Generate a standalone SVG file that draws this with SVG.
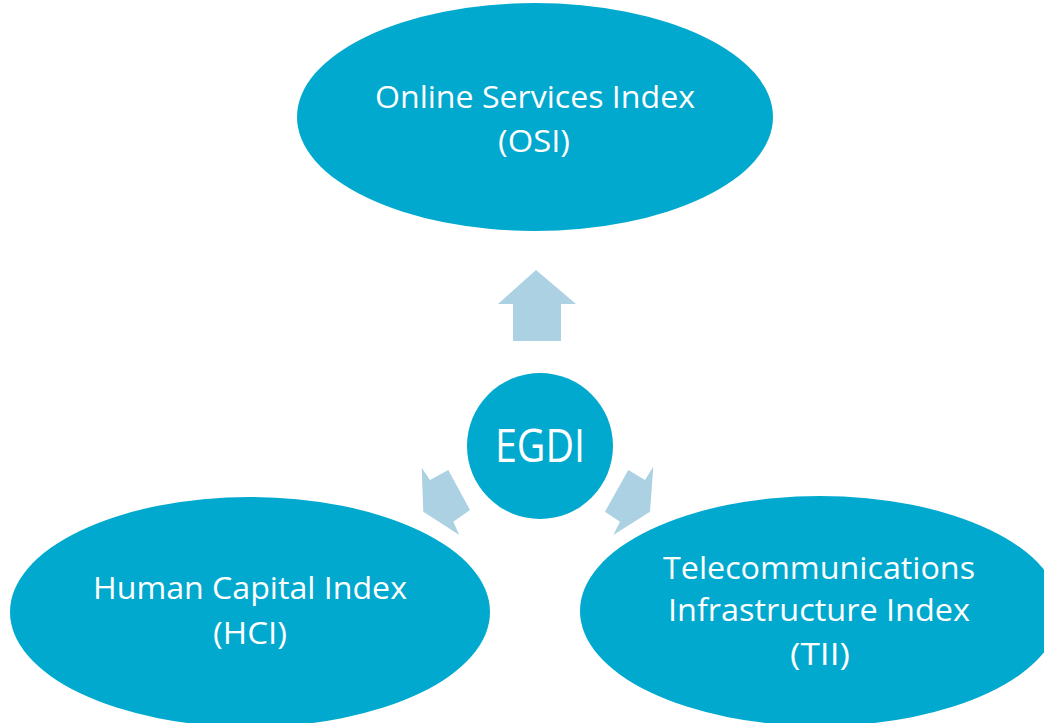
<svg xmlns="http://www.w3.org/2000/svg" width="1044" height="723" viewBox="0 0 1044 723">
<style>
.node{fill:#02A9CE}
.arrow{fill:#ABD1E3}
text{font-family:"Open Sans","Liberation Sans",Arial,sans-serif;fill:#ffffff;font-size:31px;text-anchor:middle}
.big{font-size:46px}
</style>
<rect width="1044" height="723" fill="#ffffff"/>
<g id="connectors">
<polygon class="arrow" points="536,270 576,304 561,304 561,341 513,341 513,304 498,304"/>
<polygon class="arrow" points="421.7,467.7 430,480 448.3,470 470,510 453.3,521.7 459.3,535 423.3,511.7"/>
<polygon class="arrow" points="653.3,466.7 645,480 628.3,470 605,511.7 620,521.7 613.3,535 650,511.7"/>
</g>
<g id="osi">
<ellipse class="node" cx="535" cy="117" rx="238" ry="114"/>
<text x="535" y="108" textLength="320" lengthAdjust="spacingAndGlyphs">Online Services Index</text>
<text x="534" y="152" textLength="72" lengthAdjust="spacingAndGlyphs">(OSI)</text>
</g>
<g id="egdi">
<circle class="node" cx="540" cy="446" r="73"/>
<text class="big" x="540" y="462" textLength="90" lengthAdjust="spacingAndGlyphs">EGDI</text>
</g>
<g id="hci">
<ellipse class="node" cx="250" cy="612" rx="240" ry="115"/>
<text x="250" y="599" textLength="314" lengthAdjust="spacingAndGlyphs">Human Capital Index</text>
<text x="250" y="644" textLength="74" lengthAdjust="spacingAndGlyphs">(HCI)</text>
</g>
<g id="tii">
<ellipse class="node" cx="820" cy="611" rx="240" ry="115"/>
<text x="819" y="579" textLength="312" lengthAdjust="spacingAndGlyphs">Telecommunications</text>
<text x="819" y="621" textLength="302" lengthAdjust="spacingAndGlyphs">Infrastructure Index</text>
<text x="820" y="665" textLength="60" lengthAdjust="spacingAndGlyphs">(TII)</text>
</g>
</svg>
